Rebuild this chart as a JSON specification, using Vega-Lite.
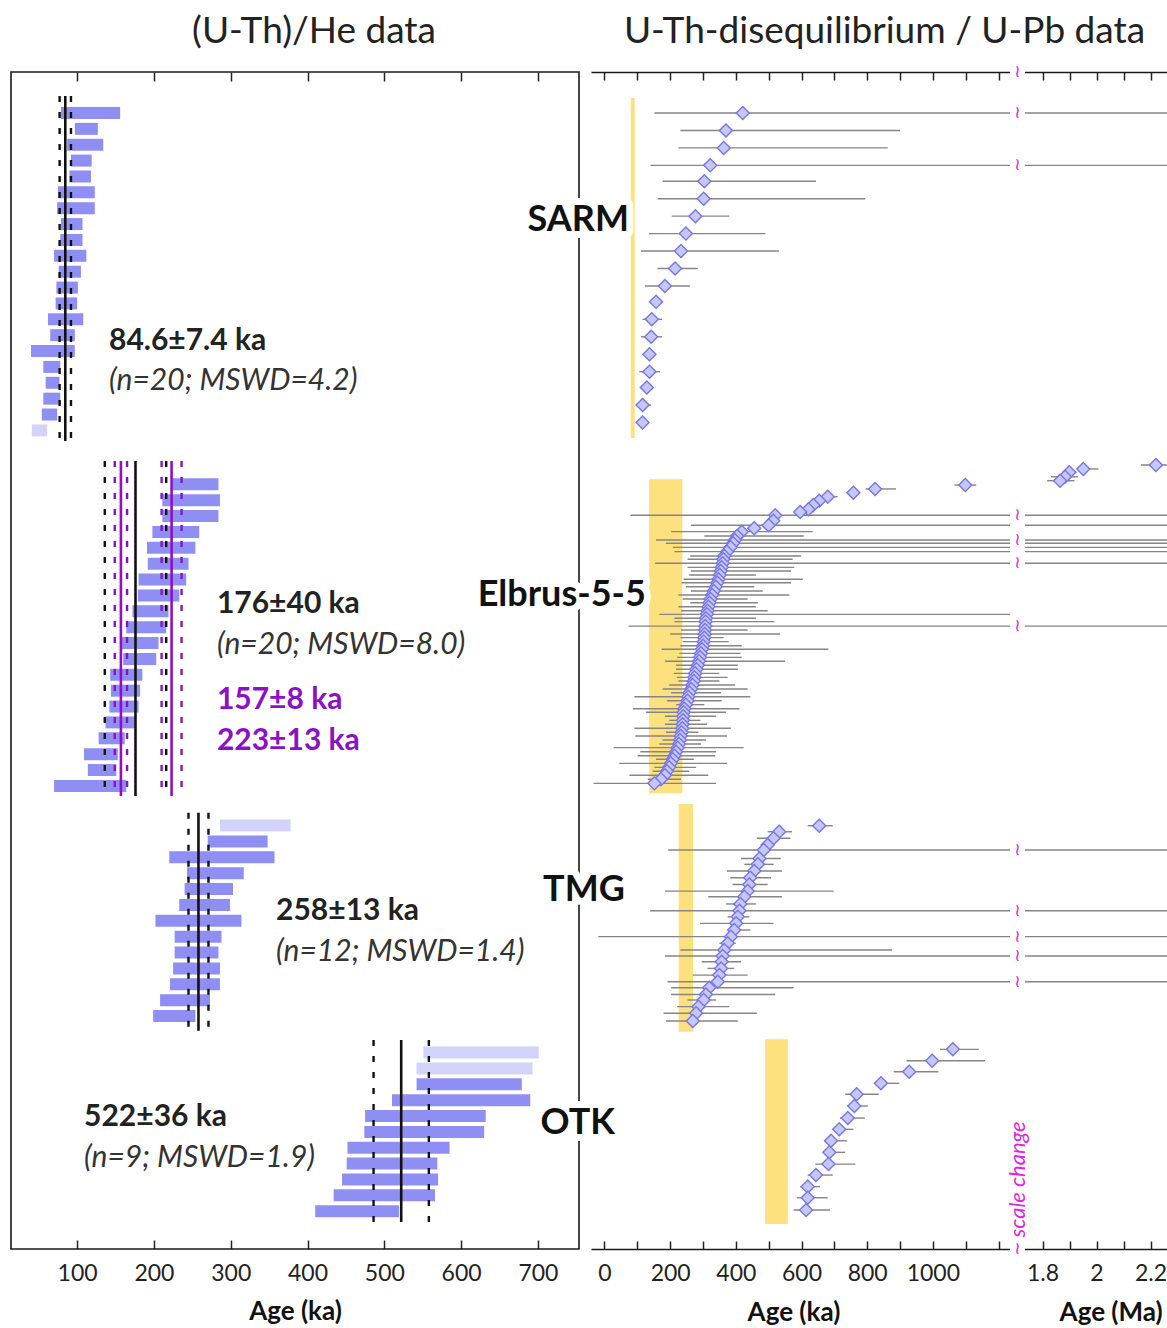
{
  "$schema": "https://vega.github.io/schema/vega-lite/v6.json",
  "padding": {"left": 10, "top": 12, "right": 0, "bottom": 0},
  "background": "white",
  "datasets": {
    "he": [
      {"g":"SARM","a0":79,"a1":156,"r":0},{"g":"SARM","a0":97,"a1":127,"r":1},{"g":"SARM","a0":87,"a1":134,"r":2},
      {"g":"SARM","a0":92,"a1":119,"r":3},{"g":"SARM","a0":90,"a1":118,"r":4},{"g":"SARM","a0":75,"a1":123,"r":5},
      {"g":"SARM","a0":74,"a1":123,"r":6},{"g":"SARM","a0":79,"a1":107,"r":7},{"g":"SARM","a0":78,"a1":107,"r":8},
      {"g":"SARM","a0":70,"a1":112,"r":9},{"g":"SARM","a0":76,"a1":105,"r":10},{"g":"SARM","a0":73,"a1":101,"r":11},
      {"g":"SARM","a0":72,"a1":100,"r":12},{"g":"SARM","a0":62,"a1":108,"r":13},{"g":"SARM","a0":65,"a1":97,"r":14},
      {"g":"SARM","a0":40,"a1":97,"r":15},{"g":"SARM","a0":56,"a1":78,"r":16},{"g":"SARM","a0":59,"a1":77,"r":17},
      {"g":"SARM","a0":56,"a1":78,"r":18},{"g":"SARM","a0":54,"a1":74,"r":19},{"g":"SARM","a0":41,"a1":61,"r":20,"ex":true},
      {"g":"Elbrus","a0":224,"a1":284,"r":23.4},{"g":"Elbrus","a0":211,"a1":286,"r":24.4},{"g":"Elbrus","a0":211,"a1":284,"r":25.4},
      {"g":"Elbrus","a0":198,"a1":259,"r":26.4},{"g":"Elbrus","a0":191,"a1":254,"r":27.4},{"g":"Elbrus","a0":192,"a1":245,"r":28.4},
      {"g":"Elbrus","a0":180,"a1":242,"r":29.4},{"g":"Elbrus","a0":179,"a1":233,"r":30.4},{"g":"Elbrus","a0":172,"a1":219,"r":31.4},
      {"g":"Elbrus","a0":164,"a1":216,"r":32.4},{"g":"Elbrus","a0":158,"a1":206,"r":33.4},{"g":"Elbrus","a0":160,"a1":203,"r":34.4},
      {"g":"Elbrus","a0":143,"a1":185,"r":35.4},{"g":"Elbrus","a0":144,"a1":182,"r":36.4},{"g":"Elbrus","a0":142,"a1":180,"r":37.4},
      {"g":"Elbrus","a0":137,"a1":175,"r":38.4},{"g":"Elbrus","a0":128,"a1":162,"r":39.4},{"g":"Elbrus","a0":109,"a1":153,"r":40.4},
      {"g":"Elbrus","a0":114,"a1":151,"r":41.4},{"g":"Elbrus","a0":70,"a1":164,"r":42.4},
      {"g":"TMG","a0":286,"a1":378,"r":44.9,"ex":true},{"g":"TMG","a0":270,"a1":348,"r":45.9},{"g":"TMG","a0":220,"a1":357,"r":46.9},
      {"g":"TMG","a0":243,"a1":317,"r":47.9},{"g":"TMG","a0":240,"a1":303,"r":48.9},{"g":"TMG","a0":233,"a1":299,"r":49.9},
      {"g":"TMG","a0":202,"a1":314,"r":50.9},{"g":"TMG","a0":227,"a1":288,"r":51.9},{"g":"TMG","a0":227,"a1":284,"r":52.9},
      {"g":"TMG","a0":225,"a1":286,"r":53.9},{"g":"TMG","a0":221,"a1":286,"r":54.9},{"g":"TMG","a0":208,"a1":273,"r":55.9},
      {"g":"TMG","a0":199,"a1":254,"r":56.9},
      {"g":"OTK","a0":551,"a1":701,"r":59.2,"ex":true},{"g":"OTK","a0":542,"a1":693,"r":60.2,"ex":true},{"g":"OTK","a0":542,"a1":679,"r":61.2},
      {"g":"OTK","a0":510,"a1":690,"r":62.2},{"g":"OTK","a0":475,"a1":632,"r":63.2},{"g":"OTK","a0":474,"a1":630,"r":64.2},
      {"g":"OTK","a0":452,"a1":585,"r":65.2},{"g":"OTK","a0":451,"a1":569,"r":66.2},{"g":"OTK","a0":445,"a1":570,"r":67.2},
      {"g":"OTK","a0":434,"a1":566,"r":68.2},{"g":"OTK","a0":410,"a1":519,"r":69.2}
    ],
    "heLines": [
      {"x":84.6,"r0":-1.07,"r1":20.67,"k":"all","m":"mean"},{"x":77.2,"r0":-1.07,"r1":20.67,"k":"all","m":"err"},{"x":92.0,"r0":-1.07,"r1":20.67,"k":"all","m":"err"},
      {"x":176,"r0":21.93,"r1":43.04,"k":"all","m":"mean"},{"x":136,"r0":21.93,"r1":43.04,"k":"all","m":"err"},{"x":216,"r0":21.93,"r1":43.04,"k":"all","m":"err"},
      {"x":157,"r0":21.93,"r1":43.04,"k":"peak","m":"mean"},{"x":149,"r0":21.93,"r1":43.04,"k":"peak","m":"err"},{"x":165,"r0":21.93,"r1":43.04,"k":"peak","m":"err"},
      {"x":223,"r0":21.93,"r1":43.04,"k":"peak","m":"mean"},{"x":210,"r0":21.93,"r1":43.04,"k":"peak","m":"err"},{"x":236,"r0":21.93,"r1":43.04,"k":"peak","m":"err"},
      {"x":258,"r0":44.09,"r1":57.83,"k":"all","m":"mean"},{"x":245,"r0":44.09,"r1":57.83,"k":"all","m":"err"},{"x":271,"r0":44.09,"r1":57.83,"k":"all","m":"err"},
      {"x":522,"r0":58.41,"r1":69.88,"k":"all","m":"mean"},{"x":486,"r0":58.41,"r1":69.88,"k":"all","m":"err"},{"x":558,"r0":58.41,"r1":69.88,"k":"all","m":"err"}
    ],
    "heText": [
      {"t":"84.6±7.4 ka","x":141.5,"r":14.37,"s":"b"},{"t":"(n=20; MSWD=4.2)","x":141.5,"r":16.89,"s":"i"},
      {"t":"176±40 ka","x":282,"r":30.94,"s":"b"},{"t":"(n=20; MSWD=8.0)","x":282,"r":33.52,"s":"i"},
      {"t":"157±8 ka","x":282,"r":36.99,"s":"p"},{"t":"223±13 ka","x":282,"r":39.57,"s":"p"},
      {"t":"258±13 ka","x":359,"r":50.28,"s":"b"},{"t":"(n=12; MSWD=1.4)","x":359,"r":52.87,"s":"i"},
      {"t":"522±36 ka","x":109,"r":63.26,"s":"b"},{"t":"(n=9; MSWD=1.9)","x":109,"r":65.85,"s":"i"}
    ],
    "uth": [
      {"s":"SARM","r":0.0,"a":421,"lo":152,"hi":2400},{"s":"SARM","r":1.1,"a":370,"lo":231,"hi":900},{"s":"SARM","r":2.2,"a":363,"lo":225,"hi":863},
      {"s":"SARM","r":3.3,"a":322,"lo":140,"hi":2400},{"s":"SARM","r":4.3,"a":304,"lo":177,"hi":644},{"s":"SARM","r":5.4,"a":302,"lo":162,"hi":794},
      {"s":"SARM","r":6.5,"a":277,"lo":205,"hi":380},{"s":"SARM","r":7.6,"a":248,"lo":135,"hi":490},{"s":"SARM","r":8.7,"a":233,"lo":111,"hi":531},
      {"s":"SARM","r":9.8,"a":215,"lo":162,"hi":284},{"s":"SARM","r":10.9,"a":184,"lo":123,"hi":260},{"s":"SARM","r":11.9,"a":157,"lo":147,"hi":167},
      {"s":"SARM","r":13.0,"a":144,"lo":116,"hi":175},{"s":"SARM","r":14.1,"a":142,"lo":111,"hi":175},{"s":"SARM","r":15.2,"a":137,"lo":129,"hi":145},
      {"s":"SARM","r":16.3,"a":137,"lo":106,"hi":169},{"s":"SARM","r":17.3,"a":129,"lo":121,"hi":137},{"s":"SARM","r":18.4,"a":116,"lo":101,"hi":142},
      {"s":"SARM","r":19.5,"a":116,"lo":109,"hi":123},
      {"s":"Elbrus","r":22.18,"a":2220,"lo":2165,"hi":2290},{"s":"Elbrus","r":22.43,"a":1951,"lo":1930,"hi":2007},{"s":"Elbrus","r":22.64,"a":1899,"lo":1875,"hi":1925},
      {"s":"Elbrus","r":22.92,"a":1883,"lo":1831,"hi":1931},{"s":"Elbrus","r":23.17,"a":1865,"lo":1817,"hi":1918},{"s":"Elbrus","r":23.44,"a":1099,"lo":1066,"hi":1132},
      {"s":"Elbrus","r":23.69,"a":824,"lo":795,"hi":888},{"s":"Elbrus","r":23.93,"a":758,"lo":742,"hi":774},{"s":"Elbrus","r":24.18,"a":680,"lo":662,"hi":710},
      {"s":"Elbrus","r":24.43,"a":654,"lo":640,"hi":668},{"s":"Elbrus","r":24.70,"a":636,"lo":622,"hi":650},{"s":"Elbrus","r":24.97,"a":621,"lo":607,"hi":635},
      {"s":"Elbrus","r":25.14,"a":596,"lo":582,"hi":610},{"s":"Elbrus","r":25.35,"a":520,"lo":79,"hi":2400},{"s":"Elbrus","r":25.69,"a":514,"lo":500,"hi":528},
      {"s":"Elbrus","r":25.98,"a":500,"lo":263,"hi":2400},{"s":"Elbrus","r":26.17,"a":456,"lo":440,"hi":472},{"s":"Elbrus","r":26.38,"a":418,"lo":203,"hi":634},
      {"s":"Elbrus","r":26.65,"a":404,"lo":304,"hi":607},{"s":"Elbrus","r":26.91,"a":397,"lo":157,"hi":2400},{"s":"Elbrus","r":27.11,"a":392,"lo":187,"hi":2400},
      {"s":"Elbrus","r":27.37,"a":384,"lo":208,"hi":2400},{"s":"Elbrus","r":27.64,"a":373,"lo":213,"hi":2400},{"s":"Elbrus","r":27.91,"a":365,"lo":261,"hi":599},
      {"s":"Elbrus","r":28.12,"a":362,"lo":253,"hi":573},{"s":"Elbrus","r":28.37,"a":360,"lo":154,"hi":2400},{"s":"Elbrus","r":28.63,"a":357,"lo":253,"hi":578},
      {"s":"Elbrus","r":28.86,"a":354,"lo":263,"hi":568},{"s":"Elbrus","r":29.11,"a":351,"lo":258,"hi":461},{"s":"Elbrus","r":29.38,"a":347,"lo":241,"hi":604},
      {"s":"Elbrus","r":29.60,"a":344,"lo":235,"hi":568},{"s":"Elbrus","r":29.85,"a":339,"lo":248,"hi":456},{"s":"Elbrus","r":30.12,"a":333,"lo":263,"hi":482},
      {"s":"Elbrus","r":30.37,"a":328,"lo":225,"hi":563},{"s":"Elbrus","r":30.62,"a":323,"lo":238,"hi":436},{"s":"Elbrus","r":30.86,"a":320,"lo":261,"hi":467},
      {"s":"Elbrus","r":31.11,"a":317,"lo":225,"hi":461},{"s":"Elbrus","r":31.36,"a":314,"lo":233,"hi":497},{"s":"Elbrus","r":31.59,"a":312,"lo":167,"hi":1238},
      {"s":"Elbrus","r":31.84,"a":309,"lo":213,"hi":461},{"s":"Elbrus","r":32.05,"a":308,"lo":213,"hi":517},{"s":"Elbrus","r":32.33,"a":307,"lo":73,"hi":2400},
      {"s":"Elbrus","r":32.58,"a":306,"lo":233,"hi":436},{"s":"Elbrus","r":32.83,"a":305,"lo":200,"hi":535},{"s":"Elbrus","r":33.06,"a":304,"lo":231,"hi":363},
      {"s":"Elbrus","r":33.31,"a":302,"lo":238,"hi":378},{"s":"Elbrus","r":33.57,"a":300,"lo":231,"hi":418},{"s":"Elbrus","r":33.79,"a":297,"lo":174,"hi":682},
      {"s":"Elbrus","r":34.05,"a":294,"lo":228,"hi":414},{"s":"Elbrus","r":34.30,"a":291,"lo":221,"hi":418},{"s":"Elbrus","r":34.55,"a":288,"lo":184,"hi":550},
      {"s":"Elbrus","r":34.80,"a":284,"lo":218,"hi":406},{"s":"Elbrus","r":35.05,"a":280,"lo":218,"hi":406},{"s":"Elbrus","r":35.31,"a":276,"lo":211,"hi":350},
      {"s":"Elbrus","r":35.56,"a":274,"lo":221,"hi":375},{"s":"Elbrus","r":35.79,"a":272,"lo":225,"hi":350},{"s":"Elbrus","r":36.04,"a":268,"lo":197,"hi":398},
      {"s":"Elbrus","r":36.29,"a":264,"lo":177,"hi":436},{"s":"Elbrus","r":36.53,"a":259,"lo":203,"hi":355},{"s":"Elbrus","r":36.78,"a":255,"lo":91,"hi":444},
      {"s":"Elbrus","r":37.03,"a":253,"lo":190,"hi":357},{"s":"Elbrus","r":37.28,"a":248,"lo":218,"hi":304},{"s":"Elbrus","r":37.54,"a":243,"lo":86,"hi":411},
      {"s":"Elbrus","r":37.76,"a":241,"lo":126,"hi":370},{"s":"Elbrus","r":38.01,"a":240,"lo":184,"hi":340},{"s":"Elbrus","r":38.27,"a":239,"lo":197,"hi":292},
      {"s":"Elbrus","r":38.52,"a":238,"lo":184,"hi":312},{"s":"Elbrus","r":38.77,"a":237,"lo":91,"hi":385},{"s":"Elbrus","r":39.02,"a":235,"lo":187,"hi":286},
      {"s":"Elbrus","r":39.26,"a":232,"lo":94,"hi":373},{"s":"Elbrus","r":39.51,"a":230,"lo":177,"hi":309},{"s":"Elbrus","r":39.76,"a":227,"lo":167,"hi":294},
      {"s":"Elbrus","r":39.99,"a":223,"lo":28,"hi":424},{"s":"Elbrus","r":40.25,"a":218,"lo":109,"hi":340},{"s":"Elbrus","r":40.50,"a":213,"lo":101,"hi":337},
      {"s":"Elbrus","r":40.72,"a":208,"lo":157,"hi":272},{"s":"Elbrus","r":40.98,"a":202,"lo":45,"hi":373},{"s":"Elbrus","r":41.23,"a":197,"lo":152,"hi":279},
      {"s":"Elbrus","r":41.48,"a":190,"lo":147,"hi":258},{"s":"Elbrus","r":41.73,"a":184,"lo":76,"hi":316},{"s":"Elbrus","r":41.98,"a":172,"lo":132,"hi":233},
      {"s":"Elbrus","r":42.24,"a":152,"lo":-33,"hi":340},
      {"s":"TMG","r":44.91,"a":654,"lo":619,"hi":695},{"s":"TMG","r":45.29,"a":532,"lo":497,"hi":571},{"s":"TMG","r":45.70,"a":515,"lo":464,"hi":566},
      {"s":"TMG","r":46.12,"a":497,"lo":480,"hi":514},{"s":"TMG","r":46.44,"a":485,"lo":194,"hi":2400},{"s":"TMG","r":46.97,"a":472,"lo":416,"hi":537},
      {"s":"TMG","r":47.34,"a":467,"lo":426,"hi":515},{"s":"TMG","r":47.76,"a":456,"lo":373,"hi":541},{"s":"TMG","r":48.19,"a":444,"lo":383,"hi":507},
      {"s":"TMG","r":48.61,"a":441,"lo":390,"hi":497},{"s":"TMG","r":49.03,"a":436,"lo":184,"hi":698},{"s":"TMG","r":49.38,"a":426,"lo":316,"hi":540},
      {"s":"TMG","r":49.84,"a":414,"lo":370,"hi":461},{"s":"TMG","r":50.27,"a":411,"lo":139,"hi":2400},{"s":"TMG","r":50.65,"a":406,"lo":375,"hi":441},
      {"s":"TMG","r":51.06,"a":401,"lo":291,"hi":515},{"s":"TMG","r":51.48,"a":395,"lo":385,"hi":444},{"s":"TMG","r":51.90,"a":385,"lo":-19,"hi":2400},
      {"s":"TMG","r":52.32,"a":375,"lo":350,"hi":400},{"s":"TMG","r":52.74,"a":365,"lo":231,"hi":876},{"s":"TMG","r":53.12,"a":360,"lo":184,"hi":2400},
      {"s":"TMG","r":53.48,"a":357,"lo":296,"hi":416},{"s":"TMG","r":53.90,"a":355,"lo":314,"hi":395},{"s":"TMG","r":54.32,"a":350,"lo":269,"hi":436},
      {"s":"TMG","r":54.74,"a":345,"lo":192,"hi":2400},{"s":"TMG","r":55.12,"a":319,"lo":203,"hi":576},{"s":"TMG","r":55.54,"a":309,"lo":203,"hi":520},
      {"s":"TMG","r":55.89,"a":302,"lo":253,"hi":340},{"s":"TMG","r":56.31,"a":286,"lo":221,"hi":380},{"s":"TMG","r":56.73,"a":279,"lo":180,"hi":464},
      {"s":"TMG","r":57.21,"a":269,"lo":187,"hi":406},
      {"s":"OTK","r":59.00,"a":1061,"lo":1022,"hi":1140},{"s":"OTK","r":59.72,"a":998,"lo":920,"hi":1159},{"s":"OTK","r":60.41,"a":928,"lo":881,"hi":1017},
      {"s":"OTK","r":61.14,"a":842,"lo":822,"hi":898},{"s":"OTK","r":61.83,"a":768,"lo":733,"hi":835},{"s":"OTK","r":62.57,"a":761,"lo":739,"hi":802},
      {"s":"OTK","r":63.33,"a":741,"lo":717,"hi":793},{"s":"OTK","r":64.04,"a":715,"lo":695,"hi":758},{"s":"OTK","r":64.76,"a":690,"lo":670,"hi":738},
      {"s":"OTK","r":65.49,"a":685,"lo":665,"hi":733},{"s":"OTK","r":66.23,"a":682,"lo":642,"hi":764},{"s":"OTK","r":66.92,"a":644,"lo":619,"hi":695},
      {"s":"OTK","r":67.65,"a":619,"lo":596,"hi":656},{"s":"OTK","r":68.35,"a":619,"lo":586,"hi":680},{"s":"OTK","r":69.12,"a":614,"lo":576,"hi":687}
    ],
    "boxes": [
      {"s":"SARM","a0":80,"a1":92,"r0":-0.95,"r1":20.48},
      {"s":"Elbrus","a0":136,"a1":237,"r0":23.08,"r1":42.87},
      {"s":"TMG","a0":226,"a1":270,"r0":43.54,"r1":57.89},
      {"s":"OTK","a0":489,"a1":558,"r0":58.37,"r1":70.01}
    ],
    "labels": [
      {"t":"SARM","x":74.6,"r":6.74},{"t":"Elbrus-5-5","x":126,"r":30.37},
      {"t":"TMG","x":62,"r":48.97},{"t":"OTK","x":32,"r":63.64}
    ],
    "notes": [{"t":"scale change","x":1485,"r":67.2}],
    "edges": [{"r":-2.583},{"r":71.58}],
    "rtitles": [{"t":"Age (ka)","x":577,"r":75.6},{"t":"Age (Ma)","x":2054,"r":75.6}]
  },
  "hconcat": [
    {
      "width": 568,
      "height": 1177,
      "title": {"text": "(U-Th)/He data", "dx": 19, "offset": 20},
      "view": {"stroke": "#1a1a1a", "strokeWidth": 1.6},
      "resolve": {"scale": {"x": "independent"}, "axis": {"x": "independent"}},
      "layer": [
        {
          "data": {"name": "he"},
          "mark": {"type": "rule", "strokeWidth": 12, "strokeCap": "butt"},
          "encoding": {
            "x": {"field": "a0", "type": "quantitative",
                  "scale": {"domain": [13.9, 753.5], "nice": false, "zero": false},
                  "axis": {"orient": "bottom", "values": [100,200,300,400,500,600,700], "format": "d", "tickSize": -9, "tickWidth": 1.5,
                           "labelPadding": 22, "domain": false, "grid": false, "labelFontSize": 23,
                           "labelFlush": false, "labelOverlap": false, "title": "Age (ka)",
                           "titleFontSize": 26, "titleFontWeight": "bold", "titlePadding": 13}},
            "x2": {"field": "a1"},
            "y": {"field": "r", "type": "quantitative",
                  "scale": {"domain": [-2.583, 71.58], "reverse": true, "nice": false, "zero": false},
                  "axis": null},
            "color": {"condition": {"test": "datum.ex", "value": "#d3d3f9"}, "value": "#8f8ff3"}
          }
        },
        {
          "data": {"name": "heLines"},
          "transform": [{"filter": "datum.m === 'mean'"}],
          "mark": {"type": "rule", "strokeWidth": 2.6},
          "encoding": {
            "x": {"field": "x", "type": "quantitative", "scale": {"domain": [13.9, 753.5], "nice": false, "zero": false}, "axis": null},
            "y": {"field": "r0", "type": "quantitative", "axis": null},
            "y2": {"field": "r1"},
            "color": {"field": "k", "type": "nominal", "scale": {"domain": ["all", "peak"], "range": ["#111111", "#8c10c4"]}, "legend": null}
          }
        },
        {
          "data": {"name": "heLines"},
          "transform": [{"filter": "datum.m === 'err'"}],
          "mark": {"type": "rule", "strokeWidth": 2.4, "strokeDash": [6, 10]},
          "encoding": {
            "x": {"field": "x", "type": "quantitative", "scale": {"domain": [13.9, 753.5], "nice": false, "zero": false}, "axis": null},
            "y": {"field": "r0", "type": "quantitative", "axis": null},
            "y2": {"field": "r1"},
            "color": {"field": "k", "type": "nominal", "scale": {"domain": ["all", "peak"], "range": ["#111111", "#8c10c4"]}, "legend": null}
          }
        },
        {
          "data": {"name": "heText"},
          "transform": [{"filter": "datum.s === 'b'"}],
          "mark": {"type": "text", "align": "left", "baseline": "middle", "fontSize": 30, "fontWeight": "bold", "color": "#222222"},
          "encoding": {
            "x": {"field": "x", "type": "quantitative", "scale": {"domain": [13.9, 753.5], "nice": false, "zero": false}, "axis": null},
            "y": {"field": "r", "type": "quantitative", "axis": null},
            "text": {"field": "t"}
          }
        },
        {
          "data": {"name": "heText"},
          "transform": [{"filter": "datum.s === 'i'"}],
          "mark": {"type": "text", "align": "left", "baseline": "middle", "fontSize": 30, "fontStyle": "italic", "color": "#333333"},
          "encoding": {
            "x": {"field": "x", "type": "quantitative", "scale": {"domain": [13.9, 753.5], "nice": false, "zero": false}, "axis": null},
            "y": {"field": "r", "type": "quantitative", "axis": null},
            "text": {"field": "t"}
          }
        },
        {
          "data": {"name": "heText"},
          "transform": [{"filter": "datum.s === 'p'"}],
          "mark": {"type": "text", "align": "left", "baseline": "middle", "fontSize": 30, "fontWeight": "bold", "color": "#8c10c4"},
          "encoding": {
            "x": {"field": "x", "type": "quantitative", "scale": {"domain": [13.9, 753.5], "nice": false, "zero": false}, "axis": null},
            "y": {"field": "r", "type": "quantitative", "axis": null},
            "text": {"field": "t"}
          }
        },
        {
          "data": {"name": "he"},
          "mark": {"type": "rule", "opacity": 0},
          "encoding": {
            "x": {"field": "a0", "type": "quantitative",
                  "scale": {"domain": [13.9, 753.5], "nice": false, "zero": false},
                  "axis": {"orient": "top", "values": [100,200,300,400,500,600,700], "labels": false, "tickSize": -9, "tickWidth": 1.5,
                           "domain": false, "grid": false, "title": null}}
          }
        }
      ]
    },
    {
      "width": 577,
      "height": 1177,
      "title": {"text": "U-Th-disequilibrium / U-Pb data", "dx": 5, "offset": 12},
      "resolve": {"scale": {"x": "independent"}, "axis": {"x": "independent"}},
      "layer": [
        {
          "data": {"name": "boxes"},
          "mark": {"type": "rect", "color": "#fde17f"},
          "encoding": {
            "x": {"field": "a0", "type": "quantitative",
                  "scale": {"domain": [-41.1, 1235, 1735, 2264.8], "range": [0, 419, 434, 577], "nice": false, "zero": false},
                  "axis": {"orient": "bottom", "values": [0,100,200,300,400,500,600,700,800,900,1000,1100,1200,1800,1900,2000,2100,2200],
                           "format": "d",
                           "labelExpr": "datum.value > 1700 ? (datum.value % 200 === 0 ? format(datum.value / 1000, '.1~f') : '') : (datum.value % 200 === 0 && datum.value <= 1000 ? datum.label : '')",
                           "tickSize": -8, "tickWidth": 1.5, "labelPadding": 21, "domain": true, "domainWidth": 1.6,
                           "grid": false, "labelFontSize": 23, "labelFlush": false, "labelOverlap": false, "title": null}},
            "x2": {"field": "a1"},
            "y": {"field": "r0", "type": "quantitative",
                  "scale": {"domain": [-2.583, 71.58], "reverse": true, "nice": false, "zero": false},
                  "axis": {"orient": "left", "domain": true, "domainWidth": 1.6, "ticks": false, "labels": false, "grid": false, "title": null}},
            "y2": {"field": "r1"}
          }
        },
        {
          "data": {"name": "uth"},
          "mark": {"type": "rule", "color": "#858585", "strokeWidth": 1.4, "clip": true},
          "encoding": {
            "x": {"field": "lo", "type": "quantitative", "scale": {"domain": [-41.1, 1235, 1735, 2264.8], "range": [0, 419, 434, 577], "nice": false, "zero": false}, "axis": null},
            "x2": {"field": "hi"},
            "y": {"field": "r", "type": "quantitative", "axis": null}
          }
        },
        {
          "data": {"name": "uth"},
          "transform": [{"filter": "datum.lo < 1235 && datum.hi > 1735"}],
          "mark": {"type": "rule", "color": "white", "strokeWidth": 5},
          "encoding": {
            "x": {"datum": 1235, "type": "quantitative", "scale": {"domain": [-41.1, 1235, 1735, 2264.8], "range": [0, 419, 434, 577], "nice": false, "zero": false}, "axis": null},
            "x2": {"datum": 1735},
            "y": {"field": "r", "type": "quantitative", "axis": null}
          }
        },
        {
          "data": {"name": "edges"},
          "mark": {"type": "rule", "color": "white", "strokeWidth": 5},
          "encoding": {
            "x": {"datum": 1235, "type": "quantitative", "scale": {"domain": [-41.1, 1235, 1735, 2264.8], "range": [0, 419, 434, 577], "nice": false, "zero": false}, "axis": null},
            "x2": {"datum": 1735},
            "y": {"field": "r", "type": "quantitative", "axis": null}
          }
        },
        {
          "data": {"name": "uth"},
          "transform": [
            {"filter": "datum.lo < 1235 && datum.hi > 1735"},
            {"window": [{"op": "lag", "field": "r", "as": "prev"}], "sort": [{"field": "r"}]},
            {"filter": "datum.prev == null || datum.r - datum.prev > 0.7"}
          ],
          "mark": {"type": "text", "text": "≀", "font": "DejaVu Sans", "fontSize": 17, "color": "#e01ee0", "align": "center", "baseline": "middle"},
          "encoding": {
            "x": {"datum": 1485, "type": "quantitative", "scale": {"domain": [-41.1, 1235, 1735, 2264.8], "range": [0, 419, 434, 577], "nice": false, "zero": false}, "axis": null},
            "y": {"field": "r", "type": "quantitative", "axis": null}
          }
        },
        {
          "data": {"name": "edges"},
          "mark": {"type": "text", "text": "≀", "font": "DejaVu Sans", "fontSize": 17, "color": "#e01ee0", "align": "center", "baseline": "middle"},
          "encoding": {
            "x": {"datum": 1485, "type": "quantitative", "scale": {"domain": [-41.1, 1235, 1735, 2264.8], "range": [0, 419, 434, 577], "nice": false, "zero": false}, "axis": null},
            "y": {"field": "r", "type": "quantitative", "axis": null}
          }
        },
        {
          "data": {"name": "uth"},
          "mark": {"type": "point", "shape": "diamond", "filled": true, "fill": "#c6c7f7", "stroke": "#7676e6", "strokeWidth": 1.4, "size": 170, "opacity": 1},
          "encoding": {
            "x": {"field": "a", "type": "quantitative", "scale": {"domain": [-41.1, 1235, 1735, 2264.8], "range": [0, 419, 434, 577], "nice": false, "zero": false}, "axis": null},
            "y": {"field": "r", "type": "quantitative", "axis": null}
          }
        },
        {
          "data": {"name": "labels"},
          "mark": {"type": "text", "align": "right", "baseline": "middle", "fontSize": 36, "fontWeight": "bold", "fill": "white", "stroke": "white", "strokeWidth": 14, "strokeJoin": "round"},
          "encoding": {
            "x": {"field": "x", "type": "quantitative", "scale": {"domain": [-41.1, 1235, 1735, 2264.8], "range": [0, 419, 434, 577], "nice": false, "zero": false}, "axis": null},
            "y": {"field": "r", "type": "quantitative", "axis": null},
            "text": {"field": "t"}
          }
        },
        {
          "data": {"name": "labels"},
          "mark": {"type": "text", "align": "right", "baseline": "middle", "fontSize": 36, "fontWeight": "bold", "color": "#111111"},
          "encoding": {
            "x": {"field": "x", "type": "quantitative", "scale": {"domain": [-41.1, 1235, 1735, 2264.8], "range": [0, 419, 434, 577], "nice": false, "zero": false}, "axis": null},
            "y": {"field": "r", "type": "quantitative", "axis": null},
            "text": {"field": "t"}
          }
        },
        {
          "data": {"name": "notes"},
          "mark": {"type": "text", "align": "center", "baseline": "middle", "angle": 270, "fontSize": 22, "fontStyle": "italic", "color": "#e024e0"},
          "encoding": {
            "x": {"field": "x", "type": "quantitative", "scale": {"domain": [-41.1, 1235, 1735, 2264.8], "range": [0, 419, 434, 577], "nice": false, "zero": false}, "axis": null},
            "y": {"field": "r", "type": "quantitative", "axis": null},
            "text": {"field": "t"}
          }
        },
        {
          "data": {"name": "rtitles"},
          "mark": {"type": "text", "align": "center", "baseline": "middle", "fontSize": 26, "fontWeight": "bold", "color": "#111111"},
          "encoding": {
            "x": {"field": "x", "type": "quantitative", "scale": {"domain": [-41.1, 1235, 1735, 2264.8], "range": [0, 419, 434, 577], "nice": false, "zero": false}, "axis": null},
            "y": {"field": "r", "type": "quantitative", "axis": null},
            "text": {"field": "t"}
          }
        },
        {
          "data": {"name": "uth"},
          "mark": {"type": "rule", "opacity": 0},
          "encoding": {
            "x": {"field": "a", "type": "quantitative",
                  "scale": {"domain": [-41.1, 1235, 1735, 2264.8], "range": [0, 419, 434, 577], "nice": false, "zero": false},
                  "axis": {"orient": "top", "values": [0,100,200,300,400,500,600,700,800,900,1000,1100,1200,1800,1900,2000,2100,2200],
                           "labels": false, "tickSize": -8, "tickWidth": 1.5, "domain": true, "domainWidth": 1.6, "grid": false, "title": null}}
          }
        }
      ]
    }
  ],
  "spacing": 12,
  "bounds": "flush",
  "config": {
    "font": "Lato",
    "view": {"stroke": null},
    "axis": {"labelFont": "Lato", "titleFont": "Lato", "labelColor": "#222222", "titleColor": "#111111", "tickColor": "#222222", "domainColor": "#1a1a1a"},
    "title": {"font": "Lato", "fontSize": 37, "fontWeight": "normal", "color": "#222222", "anchor": "middle"}
  }
}
